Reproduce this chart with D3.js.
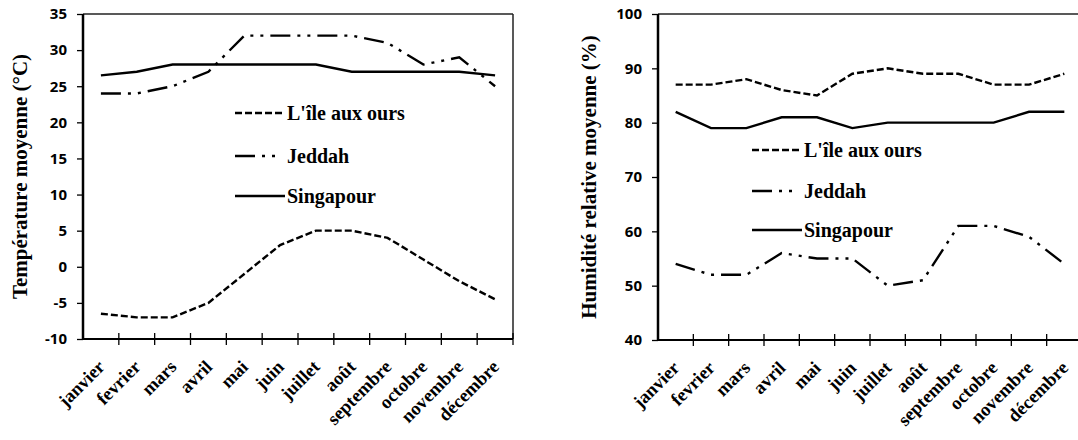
<!DOCTYPE html>
<html><head><meta charset="utf-8">
<script src="https://cdn.jsdelivr.net/npm/d3@7"></script>
<style>body{margin:0;background:#fff}</style>
</head><body><svg id="c" width="1078" height="440"></svg>
<script>
const months = ["janvier","fevrier","mars","avril","mai","juin","juillet","août","septembre","octobre","novembre","décembre"];
const seriesNames = ["L'île aux ours","Jeddah","Singapour"];
const tempIle = [-6.5,-7,-7,-5,-1,3,5,5,4,1,-2,-4.5];
const tempJeddah = [24,24,25,27,32,32,32,32,31,28,29,25];
const tempSingapour = [26.5,27,28,28,28,28,28,27,27,27,27,26.5];
const humIle = [87,87,88,86,85,89,90,89,89,87,87,89];
const humJeddah = [54,52,52,56,55,55,50,51,61,61,59,54];
const humSingapour = [82,79,79,81,81,79,80,80,80,80,82,82];
const tempTicks = [-10,-5,0,5,10,15,20,25,30,35];
const humTicks = [40,50,60,70,80,90,100];

const dashes = ["7,3", "20,7,3,7,3,7", null];
const svg = d3.select("#c");
const serif = "'Liberation Serif', 'Times New Roman', serif";

function chart(o){
  const g = svg.append("g");
  const x = d3.scaleBand().domain(months).range([o.x0, o.x1]).paddingInner(0).paddingOuter(0);
  const y = d3.scaleLinear().domain([o.ticks[0], o.ticks[o.ticks.length-1]]).range([o.y1, o.y0]);
  g.append("line").attr("x1",o.x0).attr("x2",o.x1).attr("y1",o.y0).attr("y2",o.y0)
    .attr("stroke","#222").attr("stroke-width",1.5);
  g.append("line").attr("x1",o.x1).attr("x2",o.x1).attr("y1",o.y0).attr("y2",o.y1)
    .attr("stroke","#222").attr("stroke-width",1.5);
  const ya = g.append("g").attr("transform",`translate(${o.x0},0)`)
    .call(d3.axisLeft(y).tickValues(o.ticks).tickSize(6).tickPadding(10).tickFormat(d => String(d)));
  ya.select(".domain").attr("stroke","#000").attr("stroke-width",2.5).attr("d",`M0,${o.y0}V${o.y1}`);
  ya.selectAll(".tick line").attr("stroke","#000").attr("stroke-width",1.3);
  ya.selectAll(".tick text").attr("font-family","'Open Sans', sans-serif").attr("font-weight","bold")
    .attr("font-size","15px").attr("fill","#000");
  const ticksX = months.map(m=>x(m)).concat([o.x1]);
  g.append("line").attr("x1",o.x0).attr("x2",o.x1).attr("y1",o.y1).attr("y2",o.y1)
    .attr("stroke","#000").attr("stroke-width",2.2);
  g.selectAll(".xt").data(ticksX.slice(1)).join("line").attr("class","xt")
    .attr("x1",d=>d).attr("x2",d=>d).attr("y1",o.y1-6).attr("y2",o.y1+6)
    .attr("stroke","#000").attr("stroke-width",1.3);
  g.selectAll(".xl").data(months).join("text").attr("class","xl")
    .attr("transform",d=>`translate(${x(d)+x.bandwidth()/2+5},${o.y1+29}) rotate(-45)`)
    .attr("text-anchor","end")
    .attr("font-family",serif).attr("font-weight","bold")
    .attr("font-size","18.5px").attr("fill","#000").text(d=>d);
  g.append("text").attr("transform",`translate(${o.titleX},${(o.y0+o.y1)/2}) rotate(-90)`)
    .attr("text-anchor","middle")
    .attr("font-family",serif).attr("font-weight","bold")
    .attr("font-size","21px").attr("fill","#000").text(o.title);
  const line = d3.line().x((d,i)=>x(months[i])+x.bandwidth()/2).y(d=>y(d));
  o.series.forEach((s,k)=>{
    g.append("path").attr("d",line(s)).attr("fill","none").attr("stroke","#000")
      .attr("stroke-width",2.4).attr("stroke-dasharray",dashes[k]);
  });
  seriesNames.forEach((n,k)=>{
    const yy = o.legY[k];
    g.append("line").attr("x1",o.legX).attr("x2",o.legX+(k===1?44:50)).attr("y1",yy).attr("y2",yy)
      .attr("stroke","#000").attr("stroke-width",2.4).attr("stroke-dasharray",dashes[k]);
    g.append("text").attr("x",o.legX+52).attr("y",yy).attr("dy","0.35em")
      .attr("font-family",serif).attr("font-weight","bold")
      .attr("font-size","20px").attr("fill","#000").text(n);
  });
}

chart({x0:83, x1:513, y0:14, y1:339, ticks:tempTicks,
  series:[tempIle,tempJeddah,tempSingapour], title:"Température moyenne (°C)", titleX:27,
  legX:235, legY:[113,156,196]});
chart({x0:658, x1:1082, y0:14, y1:340, ticks:humTicks,
  series:[humIle,humJeddah,humSingapour], title:"Humidité relative moyenne (%)", titleX:596,
  legX:752, legY:[150,191,230]});
</script></body></html>
